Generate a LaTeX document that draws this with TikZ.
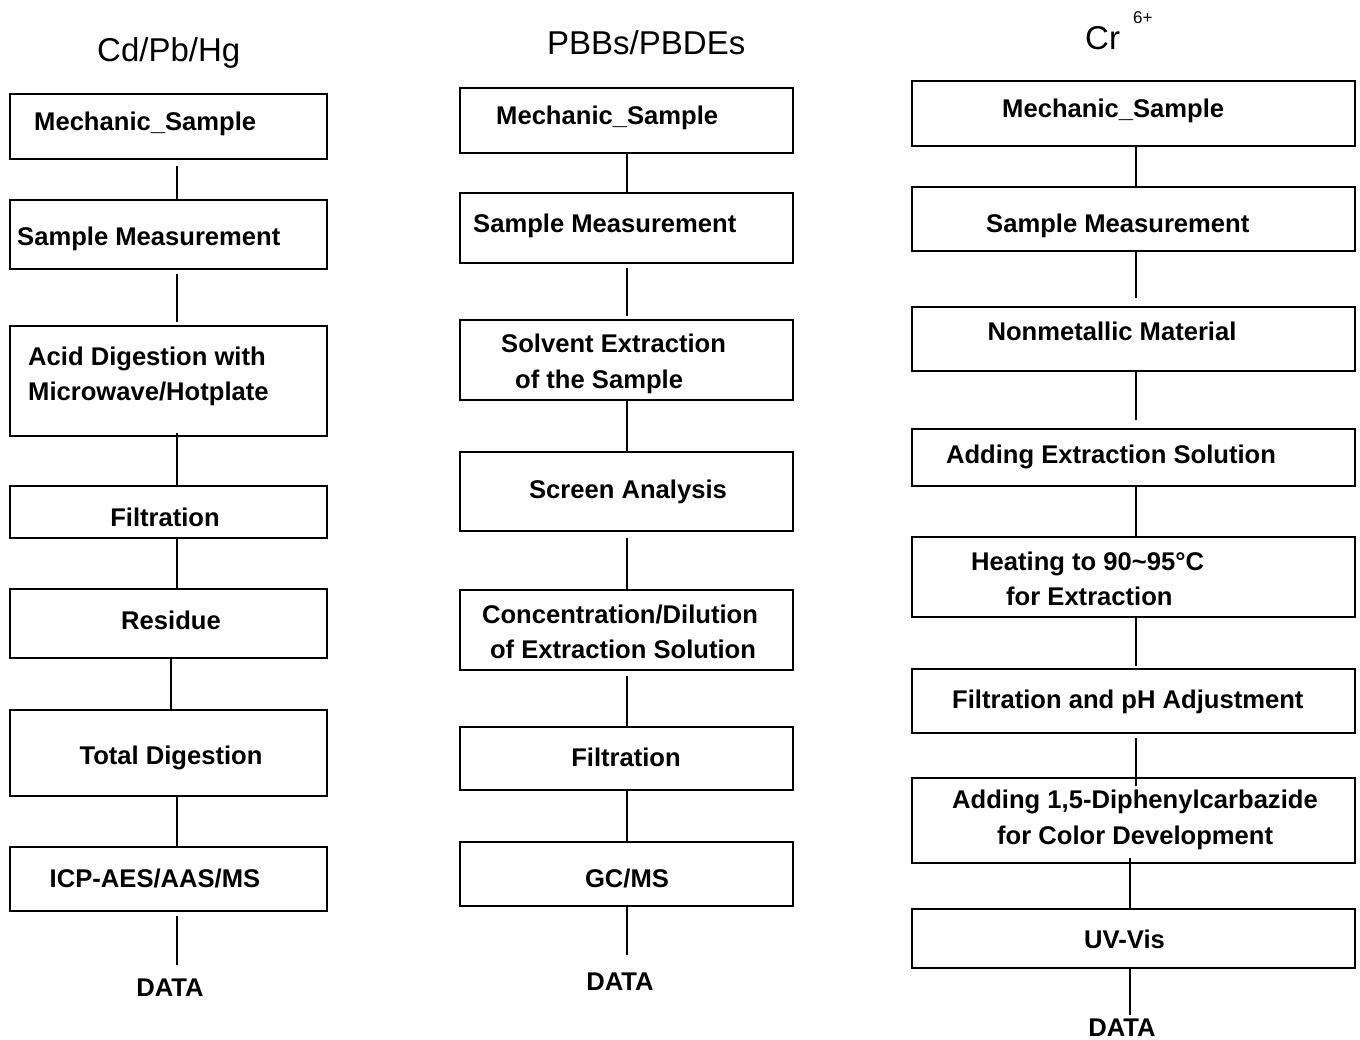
\documentclass[tikz,border=0pt]{standalone}
\usepackage{fontspec}
\setmainfont{Liberation Sans}
\begin{document}
\begin{tikzpicture}[x=1pt,y=-1pt,
  boxst/.style={draw, line width=2.6pt, inner sep=0pt, rectangle},
  btxt/.style={font=\bfseries\fontsize{25.6}{30}\selectfont, inner sep=0pt},
  ttl/.style={font=\fontsize{33}{40}\selectfont, inner sep=0pt},
  conn/.style={line width=2.6pt}]
\useasboundingbox (0,0) rectangle (1360,1039);
\newcommand\flowbox[5]{\node[boxst, minimum width={#4-#2}, minimum height={#5-#3}] (#1) at ({(#2+#4)/2},{(#3+#5)/2}) {};}
% ---------- column 1 ----------
\flowbox{a1}{10}{94}{327}{159}
\flowbox{a2}{10}{200}{327}{269}
\flowbox{a3}{10}{326}{327}{436}
\flowbox{a4}{10}{486}{327}{538}
\flowbox{a5}{10}{589}{327}{658}
\flowbox{a6}{10}{710}{327}{796}
\flowbox{a7}{10}{847}{327}{911}
\node[ttl, anchor=base west] (ta) at (97,61) {Cd/Pb/Hg};
\node[btxt, anchor=base west] (ta1) at (34,130) {Mechanic\_Sample};
\node[btxt, anchor=base west] (ta2) at (17,245) {Sample Measurement};
\node[btxt, anchor=base west] (ta3) at (28,365) {Acid Digestion with};
\node[btxt, anchor=base west] (ta3b) at (28,400) {Microwave/Hotplate};
\node[btxt, anchor=base] (ta4) at (165,526) {Filtration};
\node[btxt, anchor=base] (ta5) at (171,629) {Residue};
\node[btxt, anchor=base] (ta6) at (171,764) {Total Digestion};
\node[btxt, anchor=base] (ta7) at (155,887) {ICP-AES/AAS/MS};
\node[btxt, anchor=base] (da) at (170,996) {DATA};
\coordinate (xa) at (177,0);
\coordinate (xab) at (171,0);
\draw[conn, shorten <=6pt] (a1.south -| xa) -- (a2.north -| xa);
\draw[conn, shorten <=4pt, shorten >=3pt] (a2.south -| xa) -- (a3.north -| xa);
\draw[conn, shorten <=-4pt] (a3.south -| xa) -- (a4.north -| xa);
\draw[conn] (a4.south -| xa) -- (a5.north -| xa);
\draw[conn] (a5.south -| xab) -- (a6.north -| xab);
\draw[conn] (a6.south -| xa) -- (a7.north -| xa);
\draw[conn, shorten <=4pt, shorten >=13pt] (a7.south -| xa) -- (da.north -| xa);
% ---------- column 2 ----------
\flowbox{b1}{460}{88}{793}{153}
\flowbox{b2}{460}{193}{793}{263}
\flowbox{b3}{460}{320}{793}{400}
\flowbox{b4}{460}{452}{793}{531}
\flowbox{b5}{460}{590}{793}{670}
\flowbox{b6}{460}{727}{793}{790}
\flowbox{b7}{460}{842}{793}{906}
\node[ttl, anchor=base west] (tb) at (547,54) {PBBs/PBDEs};
\node[btxt, anchor=base west] (tb1) at (496,124) {Mechanic\_Sample};
\node[btxt, anchor=base west] (tb2) at (473,232) {Sample Measurement};
\node[btxt, anchor=base west] (tb3) at (501,352) {Solvent Extraction};
\node[btxt, anchor=base west] (tb3b) at (515,388) {of the Sample};
\node[btxt, anchor=base] (tb4) at (628,498) {Screen Analysis};
\node[btxt, anchor=base] (tb5) at (620,623) {Concentration/Dilution};
\node[btxt, anchor=base] (tb5b) at (623,658) {of Extraction Solution};
\node[btxt, anchor=base] (tb6) at (626,766) {Filtration};
\node[btxt, anchor=base] (tb7) at (627,887) {GC/MS};
\node[btxt, anchor=base] (db) at (620,990) {DATA};
\coordinate (xb) at (627,0);
\draw[conn] (b1.south -| xb) -- (b2.north -| xb);
\draw[conn, shorten <=4pt, shorten >=3pt] (b2.south -| xb) -- (b3.north -| xb);
\draw[conn] (b3.south -| xb) -- (b4.north -| xb);
\draw[conn, shorten <=6pt] (b4.south -| xb) -- (b5.north -| xb);
\draw[conn, shorten <=5pt] (b5.south -| xb) -- (b6.north -| xb);
\draw[conn] (b6.south -| xb) -- (b7.north -| xb);
\draw[conn, shorten >=17pt] (b7.south -| xb) -- (db.north -| xb);
% ---------- column 3 ----------
\flowbox{c1}{912}{81}{1355}{146}
\flowbox{c2}{912}{187}{1355}{251}
\flowbox{c3}{912}{307}{1355}{371}
\flowbox{c4}{912}{429}{1355}{486}
\flowbox{c5}{912}{537}{1355}{617}
\flowbox{c6}{912}{669}{1355}{733}
\flowbox{c7}{912}{778}{1355}{863}
\flowbox{c8}{912}{909}{1355}{968}
\node[ttl, anchor=base west] (tc) at (1085,49) {Cr};
\node[font=\fontsize{17}{20}\selectfont, inner sep=0pt, anchor=base west] (tcs) at (1133,23) {6+};
\node[btxt, anchor=base west] (tc1) at (1002,117) {Mechanic\_Sample};
\node[btxt, anchor=base west] (tc2) at (986,232) {Sample Measurement};
\node[btxt, anchor=base] (tc3) at (1112,340) {Nonmetallic Material};
\node[btxt, anchor=base] (tc4) at (1111,463) {Adding Extraction Solution};
\node[btxt, anchor=base west] (tc5) at (971,570) {Heating to 90\textasciitilde95°C};
\node[btxt, anchor=base west] (tc5b) at (1006,605) {for Extraction};
\node[btxt, anchor=base west] (tc6) at (952,708) {Filtration and pH Adjustment};
\node[btxt, anchor=base west] (tc7) at (952,808) {Adding 1,5-Diphenylcarbazide};
\node[btxt, anchor=base west] (tc7b) at (997,844) {for Color Development};
\node[btxt, anchor=base west] (tc8) at (1084,948) {UV-Vis};
\node[btxt, anchor=base] (dc) at (1122,1036) {DATA};
\coordinate (xc) at (1136,0);
\coordinate (xcb) at (1130,0);
\draw[conn] (c1.south -| xc) -- (c2.north -| xc);
\draw[conn, shorten >=8pt] (c2.south -| xc) -- (c3.north -| xc);
\draw[conn, shorten >=8pt] (c3.south -| xc) -- (c4.north -| xc);
\draw[conn] (c4.south -| xc) -- (c5.north -| xc);
\draw[conn, shorten >=2pt] (c5.south -| xc) -- (c6.north -| xc);
\draw[conn, shorten <=4pt, shorten >=-9pt] (c6.south -| xc) -- (c7.north -| xc);
\draw[conn, shorten <=-6pt] (c7.south -| xcb) -- (c8.north -| xcb);
\draw[conn, shorten >=3pt] (c8.south -| xcb) -- (dc.north -| xcb);
\end{tikzpicture}
\end{document}
